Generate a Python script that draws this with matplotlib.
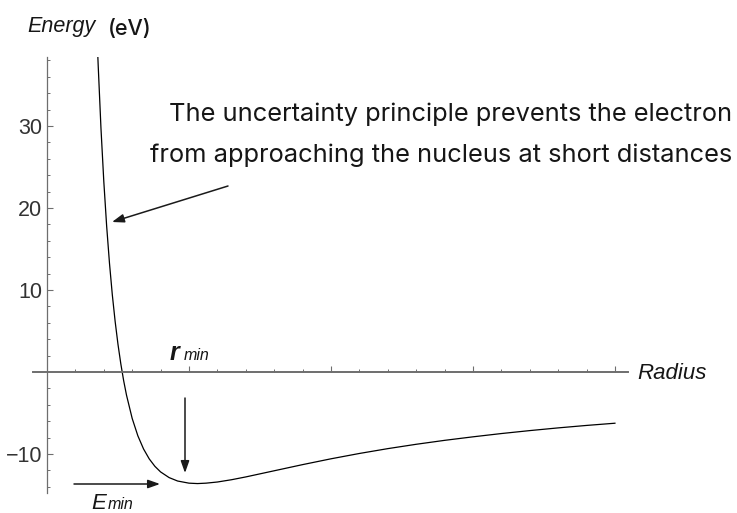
import matplotlib
matplotlib.use("Agg")
import matplotlib.pyplot as plt
from matplotlib.ticker import FixedLocator, MultipleLocator, NullFormatter

# Energy curve: radius (Angstrom) and energy (eV)
radius = [0.178, 0.18, 0.19, 0.20, 0.21, 0.22, 0.23, 0.24, 0.25, 0.26, 0.27, 0.28,
          0.30, 0.32, 0.34, 0.36, 0.38, 0.40, 0.43, 0.46, 0.50, 0.53, 0.56,
          0.60, 0.65, 0.70, 0.80, 0.90, 1.00, 1.10, 1.20, 1.30, 1.40, 1.50,
          1.60, 1.70, 1.80, 1.90, 2.00]
energy = [39.35, 37.6, 29.75, 23.25, 17.82, 13.27, 9.41, 6.15, 3.36, 0.98, -1.07, -2.83,
          -5.67, -7.79, -9.39, -10.60, -11.51, -12.19, -12.88, -13.30, -13.56, -13.61, -13.56,
          -13.42, -13.14, -12.80, -12.05, -11.30, -10.59, -9.94, -9.35, -8.82, -8.34, -7.91,
          -7.51, -7.15, -6.82, -6.52, -6.25]

y_ticks = [-10, 10, 20, 30]
y_tick_labels = ["\u221210", "10", "20", "30"]
x_major = [0.5, 1.0, 1.5, 2.0]

note_line1 = "The uncertainty principle prevents the electron"
note_line2 = "from approaching the nucleus at short distances"

W, H = 737, 513
fig = plt.figure(figsize=(W / 100, H / 100), dpi=100)
fig.patch.set_facecolor("white")

# axes region in pixels: x 33..628, y 57..493
ax = fig.add_axes([33 / W, 1 - 493 / H, (628 - 33) / W, (493 - 57) / H])
ax.set_xlim(-0.0493, 2.046)
ax.set_ylim(-14.76, 38.41)

ax.plot(radius, energy, color="black", lw=0.9, solid_joinstyle="round")

axis_color = "#6e6e6e"
for s in ["top", "right"]:
    ax.spines[s].set_visible(False)
ax.spines["left"].set_position(("data", 0))
ax.spines["bottom"].set_position(("data", 0))
ax.spines["left"].set_color(axis_color)
ax.spines["bottom"].set_color(axis_color)
ax.spines["left"].set_linewidth(0.9)
ax.spines["bottom"].set_linewidth(1.4)

ax.yaxis.set_major_locator(FixedLocator(y_ticks))
ax.set_yticklabels(y_tick_labels)
ax.yaxis.set_minor_locator(FixedLocator([v for v in range(-14, 39, 2) if v % 10 != 0]))
ax.xaxis.set_major_locator(FixedLocator(x_major))
ax.xaxis.set_minor_locator(MultipleLocator(0.1))
ax.xaxis.set_major_formatter(NullFormatter())

ax.tick_params(axis="y", which="major", direction="in", length=4, width=0.8,
               color=axis_color, pad=3.5, labelsize=15.5)
ax.tick_params(axis="y", which="minor", direction="in", length=2.5, width=0.7,
               color=axis_color)
ax.tick_params(axis="x", which="major", direction="in", length=4.5, width=0.8,
               color=axis_color)
ax.tick_params(axis="x", which="minor", direction="in", length=2.5, width=0.7,
               color=axis_color)
for lab in ax.get_yticklabels():
    lab.set_fontfamily(["Liberation Sans Narrow", "DejaVu Sans Condensed", "Liberation Sans"])
    lab.set_color("#333333")

def fx(px):
    return px / W

def fy(py):
    return 1 - py / H

txt_color = "#161616"
fam = ["Liberation Sans", "DejaVu Sans"]
fam_note = ["Inter", "Liberation Sans", "DejaVu Sans"]

fig.text(fx(27), fy(32), "Energy", fontsize=15.5, style="italic", family=fam,
         color=txt_color, va="baseline", ha="left")
fig.text(fx(108), fy(35), "(eV)", fontsize=15.5, family=fam_note, weight="medium",
         color=txt_color, va="baseline", ha="left")
fig.text(fx(637), fy(379), "Radius", fontsize=16, style="italic", family=fam,
         color=txt_color, va="baseline", ha="left")

fig.text(fx(732), fy(121.5), note_line1, fontsize=18.3, family=fam_note, color=txt_color,
         va="baseline", ha="right")
fig.text(fx(732), fy(162), note_line2, fontsize=18.3, family=fam_note, color=txt_color,
         va="baseline", ha="right")

fig.text(fx(170), fy(360), "r", fontsize=18, style="italic", weight="bold",
         family=fam, color=txt_color, va="baseline", ha="left")
fig.text(fx(184), fy(360), "min", fontsize=11.5, style="italic", family=fam,
         color=txt_color, va="baseline", ha="left")
fig.text(fx(91), fy(509), "E", fontsize=16, style="italic", family=fam,
         color=txt_color, va="baseline", ha="left")
fig.text(fx(108), fy(509), "min", fontsize=11.5, style="italic", family=fam,
         color=txt_color, va="baseline", ha="left")

def arrow(x0, y0, x1, y1):
    fig.add_artist(matplotlib.patches.FancyArrowPatch(
        (fx(x0), fy(y0)), (fx(x1), fy(y1)), transform=fig.transFigure,
        arrowstyle="-|>,head_length=0.45,head_width=0.16", mutation_scale=16,
        color="#1a1a1a", lw=1.1, shrinkA=0, shrinkB=0))

arrow(228, 186, 112, 222)
arrow(185, 398, 185, 473)
arrow(74, 484, 160, 484)

fig.savefig("out.png", dpi=100, facecolor="white")
